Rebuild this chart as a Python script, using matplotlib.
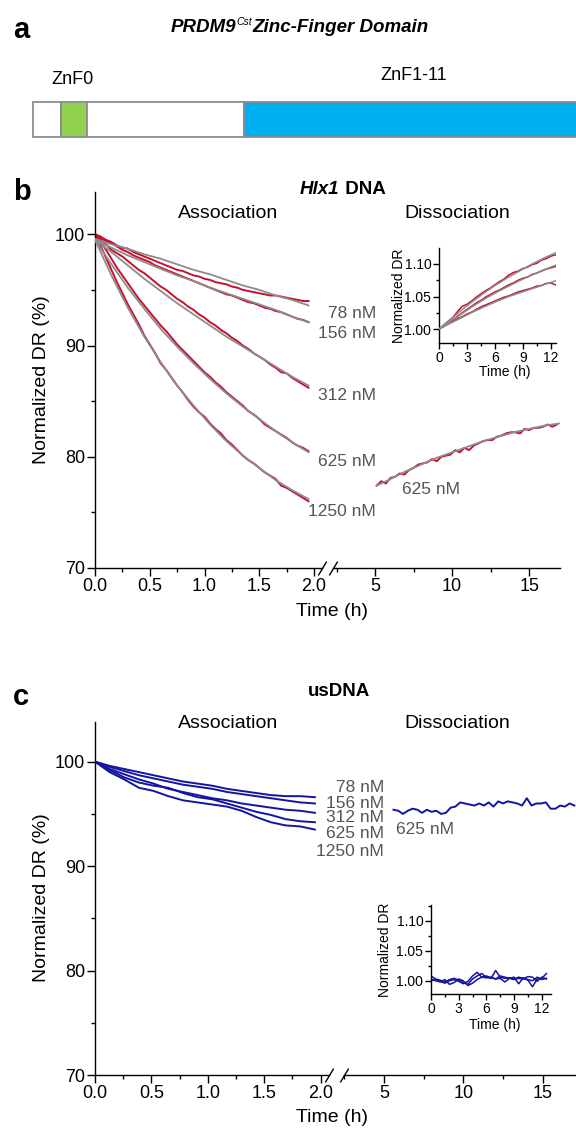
import numpy as np
import matplotlib
matplotlib.use("Agg")
import matplotlib.pyplot as plt
from matplotlib.ticker import MultipleLocator, FormatStrFormatter

plt.rcParams['font.family'] = ['Liberation Sans', 'DejaVu Sans']

W, H = 576, 1131
RED = "#c8102e"
GRAY = "#8c8c8c"
BLUE = "#1414a0"
LABEL = "#555555"

# ---- panel a: domain diagram ----
domain_names = ["N-term", "ZnF0", "linker", "ZnF1-11"]
domain_start = [0, 28, 54, 211]
domain_end = [28, 54, 211, 560]
domain_colors = ["white", "#92d050", "white", "#00b0f0"]

# ---- panel b: Hlx1 DNA ----
conc_labels = ["78 nM", "156 nM", "312 nM", "625 nM", "1250 nM"]
b_assoc_data = {
    "78 nM": [100.0, 99.8, 99.5, 99.3, 99.0, 98.8, 98.7, 98.4, 98.2, 98.0,
              97.8, 97.6, 97.4, 97.2, 97.0, 96.8, 96.7, 96.5, 96.3, 96.2,
              96.0, 95.9, 95.7, 95.6, 95.5, 95.3, 95.2, 95.0, 94.9, 94.8,
              94.7, 94.6, 94.5, 94.5, 94.4, 94.3, 94.2, 94.1, 94.0, 94.0],
    "156 nM": [100.0, 99.7, 99.4, 99.2, 98.9, 98.6, 98.4, 98.1, 97.9, 97.7,
               97.5, 97.2, 97.0, 96.8, 96.6, 96.4, 96.2, 96.0, 95.8, 95.6,
               95.4, 95.2, 95.0, 94.8, 94.6, 94.5, 94.3, 94.1, 93.9, 93.8,
               93.6, 93.4, 93.3, 93.1, 93.0, 92.8, 92.6, 92.4, 92.3, 92.1],
    "312 nM": [100.0, 99.6, 99.1, 98.6, 98.3, 98.0, 97.6, 97.2, 96.8, 96.5,
               96.1, 95.7, 95.3, 95.0, 94.6, 94.2, 93.9, 93.5, 93.2, 92.8,
               92.5, 92.1, 91.8, 91.4, 91.1, 90.7, 90.4, 90.0, 89.7, 89.3,
               89.0, 88.7, 88.3, 88.0, 87.6, 87.5, 87.1, 86.8, 86.5, 86.2],
    "625 nM": [100.0, 99.4, 98.6, 97.8, 97.0, 96.3, 95.6, 94.9, 94.2, 93.6,
               93.0, 92.4, 91.8, 91.3, 90.7, 90.1, 89.6, 89.1, 88.6, 88.1,
               87.6, 87.2, 86.7, 86.3, 85.8, 85.4, 85.0, 84.6, 84.1, 83.8,
               83.4, 82.9, 82.6, 82.3, 82.0, 81.7, 81.3, 81.0, 80.8, 80.5],
    "1250 nM": [100.0, 99.0, 97.9, 96.8, 95.7, 94.7, 93.7, 92.8, 91.9, 90.9,
                90.1, 89.3, 88.4, 87.8, 87.1, 86.4, 85.8, 85.1, 84.5, 84.0,
                83.6, 83.0, 82.5, 82.1, 81.5, 81.1, 80.6, 80.1, 79.7, 79.4,
                79.0, 78.6, 78.3, 78.0, 77.4, 77.2, 76.9, 76.6, 76.3, 76.0],
}
b_assoc_fit = {
    "78 nM": [99.6, 99.1, 98.7, 98.2, 97.8, 97.3, 96.8, 96.4, 95.9, 95.4, 95.0, 94.5, 94.1, 93.6],
    "156 nM": [99.5, 98.8, 98.1, 97.5, 96.9, 96.3, 95.8, 95.2, 94.7, 94.2, 93.7, 93.2, 92.6, 92.1],
    "312 nM": [99.5, 98.4, 97.2, 96.0, 94.9, 93.8, 92.8, 91.8, 90.8, 89.9, 89.0, 88.1, 87.2, 86.4],
    "625 nM": [99.5, 97.3, 95.2, 93.3, 91.5, 89.9, 88.4, 87.0, 85.7, 84.5, 83.4, 82.3, 81.3, 80.4],
    "1250 nM": [99.5, 96.3, 93.4, 90.8, 88.5, 86.4, 84.6, 82.9, 81.4, 80.1, 79.0, 77.9, 77.0, 76.2],
}
assoc_t_data = np.round(np.arange(40) * 0.05, 2)
assoc_t_fit = np.round(np.arange(14) * 0.15, 2)

b_diss_data = [77.4, 77.8, 77.6, 78.1, 78.2, 78.5, 78.4, 78.8, 79.0, 79.3,
               79.4, 79.5, 79.8, 79.6, 80.0, 80.1, 80.2, 80.6, 80.4, 80.8,
               80.6, 81.0, 81.2, 81.4, 81.5, 81.5, 81.8, 81.9, 82.1, 82.2,
               82.2, 82.1, 82.5, 82.4, 82.6, 82.6, 82.7, 82.9, 82.7, 82.9]
b_diss_t = np.round(5.1 + 0.3 * np.arange(len(b_diss_data)), 2)
b_diss_fit_t = [5.1, 6, 7, 8, 9, 10, 11, 12, 13, 14, 15, 16, 17]
b_diss_fit = [77.4, 78.0, 78.7, 79.3, 79.9, 80.4, 80.9, 81.4, 81.8, 82.2, 82.5, 82.8, 83.0]

# inset b: normalized dissociation
inset_t_data = np.round(np.arange(26) * 0.5, 1)
inset_t_fit = np.round(np.arange(11) * 1.25, 2)
b_inset_data = [
    [1.000, 1.006, 1.012, 1.018, 1.027, 1.035, 1.038, 1.043, 1.049, 1.054,
     1.059, 1.063, 1.068, 1.073, 1.077, 1.083, 1.087, 1.089, 1.093, 1.095,
     1.099, 1.101, 1.106, 1.108, 1.112, 1.114],
    [1.000, 1.004, 1.010, 1.014, 1.020, 1.025, 1.030, 1.035, 1.040, 1.044,
     1.049, 1.053, 1.057, 1.060, 1.064, 1.068, 1.071, 1.075, 1.078, 1.080,
     1.084, 1.086, 1.089, 1.092, 1.094, 1.096],
    [1.000, 1.004, 1.008, 1.012, 1.016, 1.019, 1.023, 1.026, 1.030, 1.034,
     1.037, 1.040, 1.043, 1.046, 1.049, 1.051, 1.054, 1.057, 1.059, 1.061,
     1.063, 1.066, 1.067, 1.070, 1.071, 1.068],
]
b_inset_fit = [
    [1.000, 1.015, 1.030, 1.044, 1.057, 1.069, 1.080, 1.090, 1.100, 1.109, 1.117],
    [1.000, 1.012, 1.024, 1.036, 1.047, 1.057, 1.066, 1.075, 1.083, 1.091, 1.098],
    [1.000, 1.009, 1.018, 1.027, 1.035, 1.043, 1.050, 1.056, 1.062, 1.068, 1.074],
]

# ---- panel c: usDNA ----
c_assoc_t = np.round(np.arange(16) * 0.13, 2)
c_assoc = {
    "78 nM": [100, 99.6, 99.3, 99.0, 98.7, 98.4, 98.1, 97.9, 97.7, 97.4, 97.2, 97.0, 96.8, 96.7, 96.7, 96.6],
    "156 nM": [100, 99.5, 99.1, 98.7, 98.4, 98.1, 97.8, 97.6, 97.4, 97.1, 96.9, 96.7, 96.5, 96.3, 96.1, 96.0],
    "312 nM": [100, 99.3, 98.8, 98.3, 97.9, 97.4, 97.1, 96.8, 96.5, 96.3, 96.0, 95.8, 95.6, 95.4, 95.3, 95.1],
    "625 nM": [100, 99.2, 98.5, 98.0, 97.7, 97.5, 97.0, 96.6, 96.4, 96.0, 95.6, 95.2, 94.9, 94.5, 94.3, 94.2],
    "1250 nM": [100, 99.0, 98.3, 97.5, 97.2, 96.7, 96.3, 96.1, 95.9, 95.7, 95.3, 94.7, 94.2, 93.9, 93.8, 93.5],
}
c_diss = [95.4, 95.3, 95.0, 95.3, 95.5, 95.4, 95.1, 95.4, 95.2, 95.3,
          95.0, 95.1, 95.6, 95.7, 96.1, 96.0, 95.9, 95.8, 96.0, 95.8,
          96.1, 95.7, 96.2, 96.0, 96.2, 96.1, 96.0, 95.8, 96.5, 95.8,
          96.0, 96.0, 96.1, 95.5, 95.5, 95.8, 95.7, 96.0, 95.8]
c_diss_t = np.round(5.6 + 0.3 * np.arange(len(c_diss)), 2)
c_inset = [
    [1.008, 1.003, 1.001, 0.998, 1.002, 1.004, 1.001, 0.997, 0.994, 1.003,
     1.008, 1.012, 1.006, 1.004, 1.017, 1.006, 1.004, 1.005, 1.003, 1.006,
     1.004, 1.001, 0.990, 1.003, 1.004, 1.012],
    [1.000, 1.002, 0.999, 0.996, 1.000, 1.002, 0.999, 0.995, 0.999, 1.008,
     1.014, 1.006, 1.005, 1.006, 1.003, 1.008, 1.006, 1.004, 1.002, 1.004,
     1.003, 1.007, 1.006, 0.999, 1.006, 1.003],
    [1.003, 1.000, 0.998, 1.002, 0.994, 0.997, 1.003, 1.000, 0.992, 0.996,
     1.002, 1.006, 1.008, 1.005, 1.003, 1.004, 0.998, 1.004, 1.006, 0.995,
     1.005, 1.002, 1.000, 1.006, 1.002, 1.004],
]


def box(l, t, r, b):
    # pixel box (left, top, right, bottom) -> figure fraction rect
    return [l / W, 1 - b / H, (r - l) / W, (b - t) / H]


def style_ticks(ax, size, major_len=5.5, minor_len=3.0):
    ax.tick_params(which="major", direction="out", length=major_len, width=1.0,
                   labelsize=size, pad=1.5)
    ax.tick_params(which="minor", direction="out", length=minor_len, width=1.0)
    for s in ax.spines.values():
        s.set_linewidth(1.0)


def broken_axes(fig, left_box, right_box, left_xlim, right_xlim):
    axl = fig.add_axes(box(*left_box))
    axr = fig.add_axes(box(*right_box))
    for ax in (axl, axr):
        ax.set_ylim(70, 103.8)
        ax.spines["top"].set_visible(False)
        ax.spines["right"].set_visible(False)
        ax.patch.set_alpha(0)
    axr.spines["left"].set_visible(False)
    axr.yaxis.set_visible(False)
    axl.set_xlim(*left_xlim)
    axr.set_xlim(*right_xlim)
    axl.xaxis.set_major_locator(MultipleLocator(0.5))
    axl.xaxis.set_minor_locator(MultipleLocator(0.25))
    axl.xaxis.set_major_formatter(FormatStrFormatter("%.1f"))
    axr.xaxis.set_major_locator(MultipleLocator(5))
    axr.xaxis.set_minor_locator(MultipleLocator(2.5))
    axl.yaxis.set_major_locator(MultipleLocator(10))
    axl.yaxis.set_minor_locator(MultipleLocator(5))
    style_ticks(axl, 13)
    style_ticks(axr, 13)
    slash = [(-0.6, -1), (0.6, 1)]
    axl.plot([1], [0], transform=axl.transAxes, marker=slash, markersize=10,
             color="k", mew=1.0, clip_on=False)
    axr.plot([0], [0], transform=axr.transAxes, marker=slash, markersize=10,
             color="k", mew=1.0, clip_on=False)
    return axl, axr


def inset(fig, pbox, xlim, ylim):
    ax = fig.add_axes(box(*pbox))
    ax.set_xlim(*xlim)
    ax.set_ylim(*ylim)
    ax.spines["top"].set_visible(False)
    ax.spines["right"].set_visible(False)
    ax.patch.set_alpha(0)
    ax.xaxis.set_major_locator(MultipleLocator(3))
    ax.xaxis.set_minor_locator(MultipleLocator(1.5))
    ax.yaxis.set_major_locator(MultipleLocator(0.05))
    ax.yaxis.set_minor_locator(MultipleLocator(0.025))
    ax.yaxis.set_major_formatter(FormatStrFormatter("%.2f"))
    style_ticks(ax, 10, major_len=4.5, minor_len=2.5)
    ax.tick_params(which="major", pad=1.0)
    return ax


fig = plt.figure(figsize=(W / 100, H / 100), dpi=100)
ov = fig.add_axes([0, 0, 1, 1])
ov.set_xlim(0, W)
ov.set_ylim(H, 0)
ov.axis("off")

# ---------------- panel a ----------------
ov.text(13, 30, "a", fontsize=21, fontweight="bold", ha="left", va="center")
t1 = ov.text(171, 28, "PRDM9", fontsize=13.5, fontweight="bold", style="italic",
             ha="left", va="center")
t2 = ov.annotate("Cst", xy=(1, 0.55), xycoords=t1, fontsize=7.5, style="italic",
                 ha="left", va="bottom")
ov.annotate("Zinc-Finger Domain", xy=(1, 0), xycoords=(t2, t1), fontsize=13.5,
            fontweight="bold", style="italic", ha="left", va="bottom")
ov.text(72, 80, "ZnF0", fontsize=13, ha="center", va="center")
ov.text(414, 75, "ZnF1-11", fontsize=13, ha="center", va="center")

axa = fig.add_axes(box(33, 102, 576, 137))
axa.set_xlim(0, 543)
axa.set_ylim(0, 1)
axa.axis("off")
for s, e, c in zip(domain_start, domain_end, domain_colors):
    axa.barh(0.5, e - s, left=s, height=1, color=c, edgecolor="#8c8c8c",
             linewidth=1.3, clip_on=False)

# ---------------- panel b ----------------
ov.text(13, 192, "b", fontsize=21, fontweight="bold", ha="left", va="center")
h1 = ov.text(300, 190, "Hlx1", fontsize=13.5, fontweight="bold", style="italic",
             ha="left", va="center")
ov.annotate(" DNA", xy=(1, 0), xycoords=h1, fontsize=13.5, fontweight="bold",
            ha="left", va="bottom")
ov.text(228, 213, "Association", fontsize=14, ha="center", va="center")
ov.text(457, 213, "Dissociation", fontsize=14, ha="center", va="center")

bl, br = broken_axes(fig, (95, 192, 322, 568), (333, 192, 560, 568),
                     (0, 2.073), (2.27, 17.0))
for name in conc_labels:
    bl.plot(assoc_t_data, b_assoc_data[name], color=RED, lw=1.4, zorder=2)
    bl.plot(assoc_t_fit, b_assoc_fit[name], color=GRAY, lw=1.3, zorder=3)
br.plot(b_diss_t, b_diss_data, color=RED, lw=1.4, zorder=2)
br.plot(b_diss_fit_t, b_diss_fit, color=GRAY, lw=1.3, zorder=3)

b_label_y = [313, 334, 396, 462, 511]
for name, y in zip(conc_labels, b_label_y):
    ov.text(376, y, name, fontsize=12.5, color=LABEL, ha="right", va="center")
ov.text(431, 490, "625 nM", fontsize=12.5, color=LABEL, ha="center", va="center")
ov.text(42, 380, "Normalized DR (%)", fontsize=14, rotation=90, ha="center", va="center")
ov.text(332, 612, "Time (h)", fontsize=14, ha="center", va="center")

bi = inset(fig, (439, 248, 556, 343), (0, 12.57), (0.9785, 1.1246))
for d, f in zip(b_inset_data, b_inset_fit):
    bi.plot(inset_t_data, d, color=RED, lw=1.1, zorder=2)
    bi.plot(inset_t_fit, f, color=GRAY, lw=1.1, zorder=3)
ov.text(399, 296, "Normalized DR", fontsize=10, rotation=90, ha="center", va="center")
ov.text(505, 372, "Time (h)", fontsize=10, ha="center", va="center")

# ---------------- panel c ----------------
ov.text(13, 697, "c", fontsize=21, fontweight="bold", ha="left", va="center")
ov.text(339, 692, "usDNA", fontsize=13.5, fontweight="bold", ha="center", va="center")
ov.text(228, 723, "Association", fontsize=14, ha="center", va="center")
ov.text(457, 723, "Dissociation", fontsize=14, ha="center", va="center")

cl, cr = broken_axes(fig, (95, 722, 329, 1075), (344, 722, 576, 1075),
                     (0, 2.075), (2.48, 17.1))
for name in conc_labels:
    cl.plot(c_assoc_t, c_assoc[name], color=BLUE, lw=1.4)
cr.plot(c_diss_t, c_diss, color=BLUE, lw=1.4, clip_on=False)

c_label_y = [788, 804, 818, 834, 851]
for name, y in zip(conc_labels, c_label_y):
    ov.text(384, y, name, fontsize=12.5, color=LABEL, ha="right", va="center")
ov.text(425, 830, "625 nM", fontsize=12.5, color=LABEL, ha="center", va="center")
ov.text(42, 898, "Normalized DR (%)", fontsize=14, rotation=90, ha="center", va="center")
ov.text(332, 1118, "Time (h)", fontsize=14, ha="center", va="center")

ci = inset(fig, (431, 905, 551, 994), (0, 13.0), (0.978, 1.126))
for d in c_inset:
    ci.plot(inset_t_data, d, color=BLUE, lw=1.1)
ov.text(385, 950, "Normalized DR", fontsize=10, rotation=90, ha="center", va="center")
ov.text(495, 1025, "Time (h)", fontsize=10, ha="center", va="center")

fig.savefig("out.png", dpi=100)
